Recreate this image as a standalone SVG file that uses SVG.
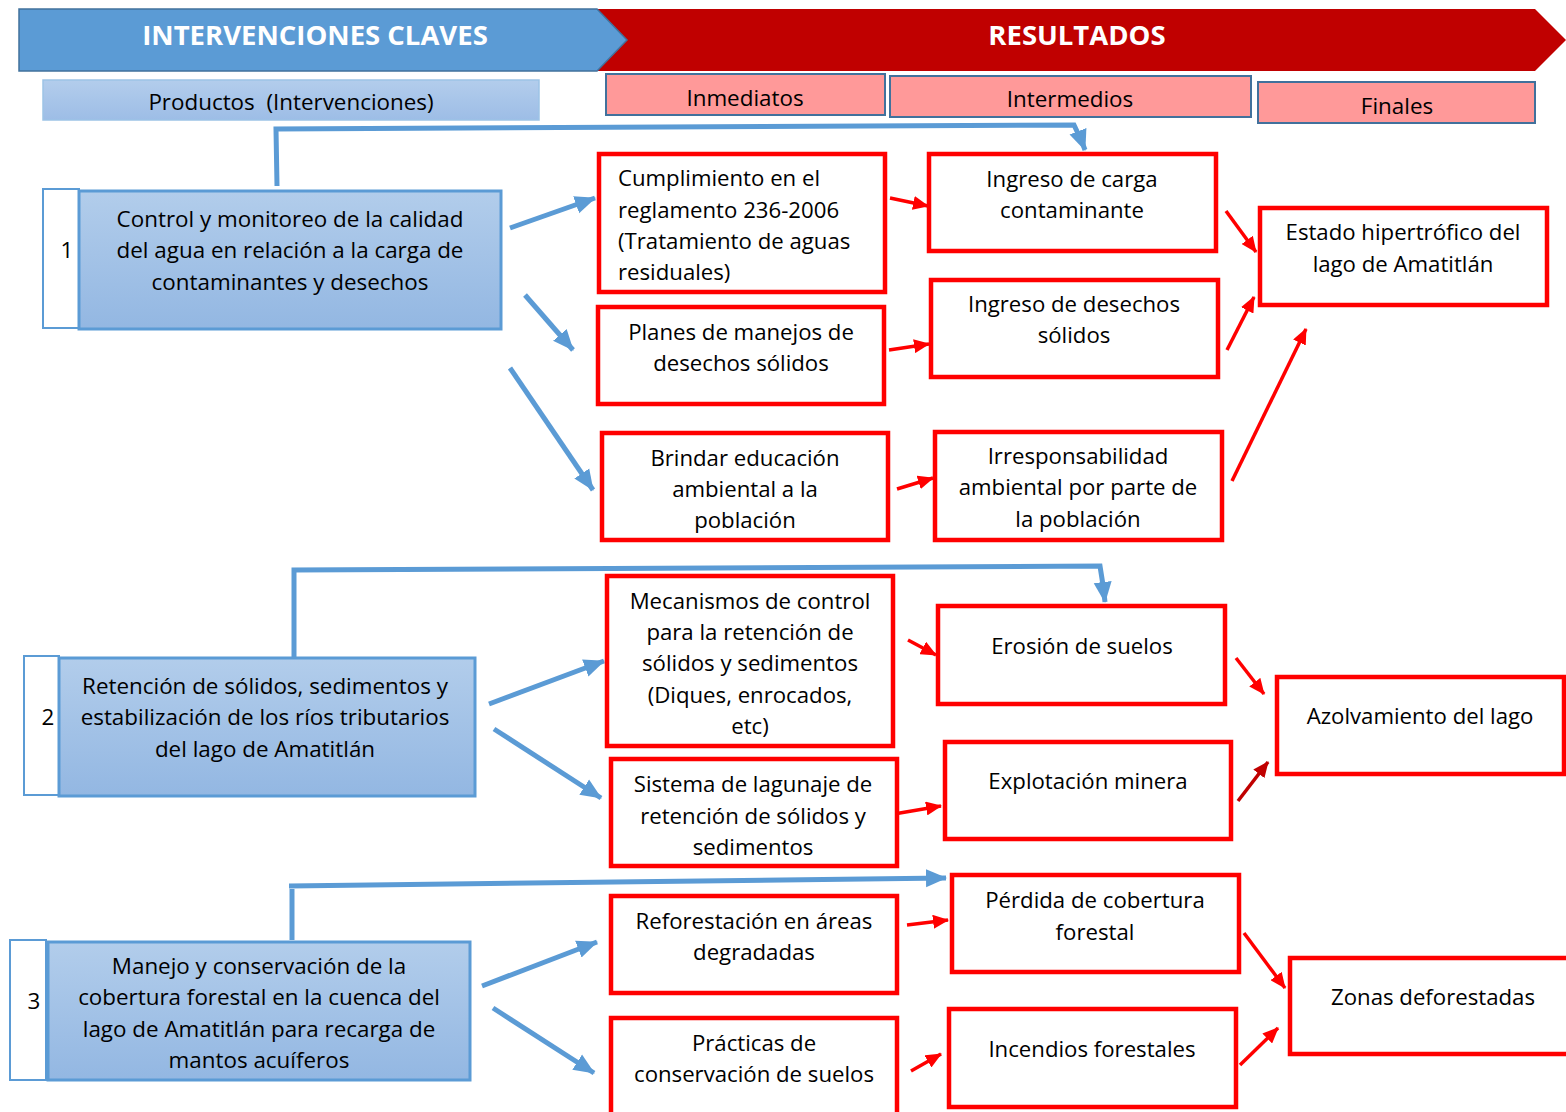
<svg xmlns="http://www.w3.org/2000/svg" width="1566" height="1112" viewBox="0 0 1566 1112">
<defs>
<linearGradient id="gBlue" x1="0" y1="0" x2="0" y2="1"><stop offset="0" stop-color="#b2cdeb"/><stop offset="1" stop-color="#93b7e2"/></linearGradient>
<linearGradient id="gHead" x1="0" y1="0" x2="0" y2="1"><stop offset="0" stop-color="#b3cdec"/><stop offset="1" stop-color="#9dbde6"/></linearGradient>
<marker id="ab" markerUnits="userSpaceOnUse" markerWidth="22" markerHeight="20" refX="20" refY="10" orient="auto"><path d="M0,1 L21,10 L0,19 Z" fill="#5b9bd5"/></marker>
<marker id="ar" markerUnits="userSpaceOnUse" markerWidth="16" markerHeight="14" refX="15" refY="7" orient="auto"><path d="M0,0 L16,7 L0,14 Z" fill="#ff0000"/></marker>
<marker id="ad" markerUnits="userSpaceOnUse" markerWidth="16" markerHeight="14" refX="15" refY="7" orient="auto"><path d="M0,0 L16,7 L0,14 Z" fill="#c00000"/></marker>
</defs>
<style>
text{font-family:"Open Sans","Liberation Sans",sans-serif;fill:#000;text-anchor:middle}
.hd{font-size:27.5px;font-weight:bold;fill:#fff}
.sub{font-size:22.4px;white-space:pre}
.bt{font-size:22.4px}
.rt{font-size:22.2px}
.ct{font-size:22.2px}
.pb{fill:url(#gBlue);stroke:#5b9bd5;stroke-width:3}
.nb{fill:#fff;stroke:#5b9bd5;stroke-width:2}
.rb{fill:#fff;stroke:#ff0000;stroke-width:4.5}
.cb{fill:none;stroke:#5b9bd5;stroke-width:5}
.cr{fill:none;stroke:#ff0000;stroke-width:3.5}
</style>
<g id="header">
<polygon points="597,9 1535,9 1566,40 1535,71 597,71 627,40" fill="#c00000"/>
<polygon points="19,9 597,9 627,40 597,71 19,71" fill="#5b9bd5" stroke="#41719c" stroke-width="1.5"/>
<text class="hd" x="315" y="45">INTERVENCIONES CLAVES</text>
<text class="hd" x="1077" y="45">RESULTADOS</text>
</g>
<g id="sub-productos"><rect x="43" y="80" width="496" height="40" fill="url(#gHead)" stroke="#9dc3e6" stroke-width="1.5"/><text class="sub" x="291" y="110">Productos  (Intervenciones)</text></g>
<g id="sub-inmediatos"><rect x="606" y="74" width="279" height="41" fill="#ff9999" stroke="#41719c" stroke-width="2"/><text class="sub" x="745" y="106">Inmediatos</text></g>
<g id="sub-intermedios"><rect x="890" y="76" width="361" height="41" fill="#ff9999" stroke="#41719c" stroke-width="2"/><text class="sub" x="1070" y="107">Intermedios</text></g>
<g id="sub-finales"><rect x="1258" y="82" width="277" height="41" fill="#ff9999" stroke="#41719c" stroke-width="2"/><text class="sub" x="1397" y="114">Finales</text></g>

<g id="connectors">
<polyline class="cb" points="277,186 276,129 1074,125 1082,142" />
<path class="cb" d="M1082,142 L1085,150" marker-end="url(#ab)"/>
<line class="cb" x1="510" y1="228" x2="595" y2="198" marker-end="url(#ab)"/>
<line class="cb" x1="525" y1="295" x2="573" y2="350" marker-end="url(#ab)"/>
<line class="cb" x1="510" y1="368" x2="593" y2="490" marker-end="url(#ab)"/>
<polyline class="cb" points="294,660 294,570 1100,566 1103,585"/>
<path class="cb" d="M1103,585 L1105,602" marker-end="url(#ab)"/>
<line class="cb" x1="489" y1="704" x2="604" y2="661" marker-end="url(#ab)"/>
<line class="cb" x1="494" y1="729" x2="601" y2="798" marker-end="url(#ab)"/>
<line class="cb" x1="292" y1="940" x2="292" y2="889"/>
<line class="cb" x1="289" y1="886" x2="946" y2="878" marker-end="url(#ab)"/>
<line class="cb" x1="482" y1="986" x2="597" y2="942" marker-end="url(#ab)"/>
<line class="cb" x1="493" y1="1008" x2="594" y2="1073" marker-end="url(#ab)"/>

<line class="cr" x1="890" y1="198" x2="928" y2="206" marker-end="url(#ar)"/>
<line class="cr" x1="889" y1="350" x2="929" y2="344" marker-end="url(#ar)"/>
<line class="cr" x1="897" y1="489" x2="933" y2="478" marker-end="url(#ar)"/>
<line class="cr" x1="1226" y1="211" x2="1256" y2="252" marker-end="url(#ar)"/>
<line class="cr" x1="1227" y1="350" x2="1254" y2="297" marker-end="url(#ar)"/>
<line class="cr" x1="1232" y1="481" x2="1306" y2="329" marker-end="url(#ar)"/>
<line class="cr" x1="908" y1="640" x2="936" y2="655" marker-end="url(#ar)"/>
<line class="cr" x1="1236" y1="658" x2="1264" y2="694" marker-end="url(#ar)"/>
<line class="cr" x1="894" y1="814" x2="941" y2="806" marker-end="url(#ar)"/>
<line class="cr" x1="1238" y1="801" x2="1268" y2="762" marker-end="url(#ad)" style="stroke:#c00000"/>
<line class="cr" x1="907" y1="925" x2="948" y2="920" marker-end="url(#ar)"/>
<line class="cr" x1="1244" y1="933" x2="1285" y2="988" marker-end="url(#ar)"/>
<line class="cr" x1="911" y1="1071" x2="941" y2="1054" marker-end="url(#ar)"/>
<line class="cr" x1="1240" y1="1065" x2="1278" y2="1028" marker-end="url(#ar)"/>
</g>

<g id="p1"><rect class="nb" x="43" y="189" width="36" height="139"/><rect class="pb" x="79" y="191" width="422" height="138"/>
<text class="bt" x="67" y="258">1</text>
<text class="bt" x="290" y="227">Control y monitoreo de la calidad</text><text class="bt" x="290" y="258">del agua en relación a la carga de</text><text class="bt" x="290" y="290">contaminantes y desechos</text></g>
<g id="p2"><rect class="nb" x="24" y="656" width="35" height="139"/><rect class="pb" x="59" y="658" width="416" height="138"/>
<text class="bt" x="48" y="725">2</text>
<text class="bt" x="265" y="694">Retención de sólidos, sedimentos y</text><text class="bt" x="265" y="725">estabilización de los ríos tributarios</text><text class="bt" x="265" y="757">del lago de Amatitlán</text></g>
<g id="p3"><rect class="nb" x="10" y="940" width="36" height="140"/><rect class="pb" x="48" y="942" width="422" height="138"/>
<text class="bt" x="34" y="1009">3</text>
<text class="bt" x="259" y="974">Manejo y conservación de la</text><text class="bt" x="259" y="1005">cobertura forestal en la cuenca del</text><text class="bt" x="259" y="1037">lago de Amatitlán para recarga de</text><text class="bt" x="259" y="1068">mantos acuíferos</text></g>

<g id="r1"><rect class="rb" x="599" y="154" width="286" height="138"/>
<text class="rt" x="618" y="186" style="text-anchor:start">Cumplimiento en el</text><text class="rt" x="618" y="218" style="text-anchor:start">reglamento 236-2006</text><text class="rt" x="618" y="249" style="text-anchor:start">(Tratamiento de aguas</text><text class="rt" x="618" y="280" style="text-anchor:start">residuales)</text></g>
<g id="r2"><rect class="rb" x="598" y="307" width="286" height="97"/><text class="rt" x="741" y="340">Planes de manejos de</text><text class="rt" x="741" y="371">desechos sólidos</text></g>
<g id="r3"><rect class="rb" x="602" y="433" width="286" height="107"/><text class="rt" x="745" y="466">Brindar educación</text><text class="rt" x="745" y="497">ambiental a la</text><text class="rt" x="745" y="528">población</text></g>
<g id="r4"><rect class="rb" x="607" y="576" width="286" height="170"/><text class="rt" x="750" y="609">Mecanismos de control</text><text class="rt" x="750" y="640">para la retención de</text><text class="rt" x="750" y="671">sólidos y sedimentos</text><text class="rt" x="750" y="703">(Diques, enrocados,</text><text class="rt" x="750" y="734">etc)</text></g>
<g id="r5"><rect class="rb" x="611" y="759" width="286" height="107"/><text class="rt" x="753" y="792">Sistema de lagunaje de</text><text class="rt" x="753" y="824">retención de sólidos y</text><text class="rt" x="753" y="855">sedimentos</text></g>
<g id="r6"><rect class="rb" x="611" y="896" width="286" height="97"/><text class="ct" x="754" y="929">Reforestación en áreas</text><text class="ct" x="754" y="960">degradadas</text></g>
<g id="r7"><rect class="rb" x="611" y="1018" width="286" height="100"/><text class="ct" x="754" y="1051">Prácticas de</text><text class="ct" x="754" y="1082">conservación de suelos</text></g>

<g id="i1"><rect class="rb" x="929" y="154" width="287" height="97"/><text class="ct" x="1072" y="187">Ingreso de carga</text><text class="ct" x="1072" y="218">contaminante</text></g>
<g id="i2"><rect class="rb" x="931" y="280" width="287" height="97"/><text class="ct" x="1074" y="312">Ingreso de desechos</text><text class="ct" x="1074" y="343">sólidos</text></g>
<g id="i3"><rect class="rb" x="935" y="432" width="287" height="108"/><text class="ct" x="1078" y="464">Irresponsabilidad</text><text class="ct" x="1078" y="495">ambiental por parte de</text><text class="ct" x="1078" y="527">la población</text></g>
<g id="i4"><rect class="rb" x="938" y="606" width="287" height="98"/><text class="ct" x="1082" y="654">Erosión de suelos</text></g>
<g id="i5"><rect class="rb" x="945" y="742" width="286" height="97"/><text class="ct" x="1088" y="789">Explotación minera</text></g>
<g id="i6"><rect class="rb" x="952" y="875" width="287" height="97"/><text class="ct" x="1095" y="908">Pérdida de cobertura</text><text class="ct" x="1095" y="940">forestal</text></g>
<g id="i7"><rect class="rb" x="949" y="1009" width="287" height="98"/><text class="ct" x="1092" y="1057">Incendios forestales</text></g>

<g id="f1"><rect class="rb" x="1260" y="208" width="287" height="97"/><text class="ct" x="1403" y="240">Estado hipertrófico del</text><text class="ct" x="1403" y="272">lago de Amatitlán</text></g>
<g id="f2"><rect class="rb" x="1277" y="677" width="287" height="97"/><text class="ct" x="1420" y="724">Azolvamiento del lago</text></g>
<g id="f3"><rect class="rb" x="1290" y="958" width="290" height="96"/><text class="ct" x="1433" y="1005">Zonas deforestadas</text></g>
</svg>
